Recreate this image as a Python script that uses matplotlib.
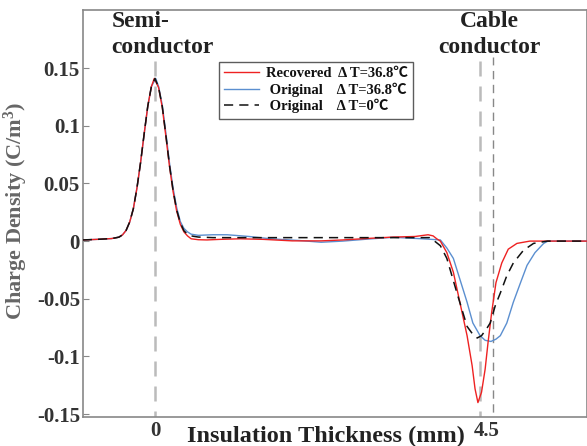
import matplotlib
matplotlib.use("Agg")
import matplotlib.pyplot as plt
import matplotlib.transforms as mtransforms

# ---- data (x in mm, y in C/m^3) ----
red_x = [-1.0, -0.8, -0.6, -0.5, -0.45, -0.4, -0.35, -0.3, -0.25, -0.2, -0.15, -0.1, -0.05, -0.01,
         0.05, 0.1, 0.15, 0.2, 0.25, 0.3, 0.35, 0.4, 0.45, 0.5, 0.6, 0.72, 0.9, 1.18, 1.5, 1.9,
         2.3, 2.6, 3.0, 3.3, 3.6, 3.78, 3.85, 3.9, 3.95, 4.04, 4.13, 4.22, 4.32, 4.39, 4.43, 4.47,
         4.52, 4.57, 4.61, 4.66, 4.72, 4.80, 4.89, 5.01, 5.19, 5.5, 6.0]
red_y = [0.001, 0.0015, 0.0022, 0.0034, 0.0054, 0.0093, 0.0166, 0.028, 0.046, 0.068, 0.093, 0.117, 0.134, 0.141,
         0.133, 0.116, 0.091, 0.065, 0.043, 0.026, 0.0146, 0.008, 0.0045, 0.002, 0.0012, 0.001, 0.0015, 0.002, 0.0015, 0.0002,
         0.0002, 0.001, 0.0025, 0.0035, 0.004, 0.0055, 0.0045, 0.002, 0.0, -0.010, -0.027, -0.053, -0.082, -0.108, -0.128, -0.140,
         -0.131, -0.111, -0.088, -0.062, -0.036, -0.019, -0.007, -0.002, 0.0, 0.0, 0.0]

blue_x = [-1.0, -0.8, -0.6, -0.5, -0.45, -0.4, -0.35, -0.3, -0.25, -0.2, -0.15, -0.1, -0.05, 0.01,
          0.05, 0.1, 0.15, 0.2, 0.25, 0.3, 0.35, 0.4, 0.45, 0.5, 0.6, 0.8, 1.0, 1.3, 1.6, 2.0,
          2.3, 2.6, 3.0, 3.3, 3.7, 3.95, 4.04, 4.13, 4.22, 4.32, 4.40, 4.50, 4.57, 4.65, 4.72, 4.78,
          4.87, 4.96, 5.06, 5.15, 5.26, 5.38, 5.44, 5.7, 6.0]
blue_y = [0.001, 0.0015, 0.0022, 0.0034, 0.0054, 0.0093, 0.0166, 0.028, 0.046, 0.068, 0.093, 0.117, 0.134, 0.141,
          0.134, 0.118, 0.094, 0.068, 0.046, 0.029, 0.017, 0.011, 0.008, 0.006, 0.005, 0.0055, 0.0055, 0.004, 0.002, 0.0005,
          -0.001, 0.0, 0.002, 0.0033, 0.002, 0.001, -0.006, -0.015, -0.033, -0.053, -0.071, -0.082, -0.086, -0.087, -0.085, -0.082,
          -0.071, -0.053, -0.036, -0.021, -0.010, -0.002, 0.0, 0.0, 0.0]

black_x = [-1.0, -0.8, -0.6, -0.5, -0.45, -0.4, -0.35, -0.3, -0.25, -0.2, -0.15, -0.1, -0.05, 0.0,
           0.05, 0.1, 0.15, 0.2, 0.25, 0.3, 0.35, 0.4, 0.45, 0.5, 0.6, 0.8, 1.5, 2.5, 3.5, 3.8,
           3.85, 3.95, 4.04, 4.18, 4.32, 4.39, 4.46, 4.52, 4.59, 4.64, 4.71, 4.78, 4.87, 4.96, 5.10,
           5.24, 5.43, 6.0]
black_y = [0.001, 0.0015, 0.0022, 0.0034, 0.0054, 0.0093, 0.0166, 0.028, 0.046, 0.068, 0.093, 0.117, 0.134, 0.141,
           0.133, 0.117, 0.092, 0.066, 0.044, 0.027, 0.016, 0.009, 0.006, 0.0045, 0.0035, 0.003, 0.003, 0.003, 0.003, 0.003,
           0.001, -0.004, -0.015, -0.045, -0.074, -0.080, -0.084, -0.082, -0.076, -0.071, -0.056, -0.045, -0.030, -0.019, -0.008,
           -0.002, 0.0, 0.0]

semi_pos = 0.0
cable_pos = [4.5, 4.68]
y_ticks = [-0.15, -0.1, -0.05, 0, 0.05, 0.1, 0.15]
y_tick_labels = ["-0.15", "-0.1", "-0.05", "0", "0.05", "0.1", "0.15"]
x_ticks = [0, 4.5]
x_tick_labels = ["0", "4.5"]
legend_labels = ['Recovered  \u0394 T=36.8\u2103',
                 ' Original    \u0394 T=36.8\u2103',
                 ' Original    \u0394 T=0\u2103']

plt.rcParams['font.family'] = ['Liberation Serif', 'Noto Sans CJK SC', 'DejaVu Sans']
plt.rcParams['font.weight'] = 'bold'
plt.rcParams['mathtext.default'] = 'regular'

fig = plt.figure(figsize=(5.87, 4.46), dpi=100)
ax = fig.add_axes([0.141, 0.065, 0.859, 0.913])

# reference dashed lines
ax.vlines(semi_pos, -0.16, 0.16, colors='#bbbbbb', linestyles=(0, (6, 4)), linewidth=1.8, zorder=1)
ax.vlines(cable_pos[0], -0.16, 0.16, colors='#bbbbbb', linestyles=(0, (6, 4)), linewidth=1.8, zorder=1)
ax.vlines(cable_pos[1], -0.16, 0.16, colors='#888888', linestyles=(0, (6, 4)), linewidth=1.0, zorder=1)

ax.plot(red_x, red_y, color='#ee2222', lw=1.0, label=legend_labels[0], zorder=4)
ax.plot(blue_x, blue_y, color='#5b8fd0', lw=1.0, label=legend_labels[1], zorder=3)
ax.plot(black_x, black_y, color='#111111', lw=1.1, ls=(0, (6, 4)), label=legend_labels[2], zorder=5)

ax.set_xlim(-1.0, 5.98)
ax.set_ylim(-0.1525, 0.2005)
ax.set_yticks(y_ticks)
ax.set_yticklabels(y_tick_labels)
ax.set_xticks(x_ticks)
ax.set_xticklabels(x_tick_labels)
ax.tick_params(axis='y', direction='in', length=4, color='#888888', pad=2, labelsize=15, labelcolor='#333333')
ax.tick_params(axis='x', length=0, pad=3, labelsize=15, labelcolor='#333333')
# the "4.5" label sits a little right of its line in the reference
lbl = ax.get_xticklabels()[1]
lbl.set_transform(lbl.get_transform() + mtransforms.ScaledTranslation(7 / 100, 0, fig.dpi_scale_trans))
for s in ax.spines.values():
    s.set_color('#888888')
    s.set_linewidth(1.2)

ax.set_xlabel('Insulation Thickness (mm)', fontsize=17.5, fontweight='bold', color='#222222')
ax.xaxis.set_label_coords(0.482, -0.022)
ax.set_ylabel('Charge Density (C/m$^3$)', fontsize=16, fontweight='bold', color='#666666')
ax.yaxis.set_label_coords(-0.105, 0.506)

ax.text(-0.6, 0.19, 'Semi-', ha='left', va='center', fontsize=17, fontweight='bold', color='#222222')
ax.text(-0.6, 0.1675, 'conductor', ha='left', va='center', fontsize=17, fontweight='bold', color='#222222')
ax.text(4.63, 0.19, 'Cable', ha='center', va='center', fontsize=17, fontweight='bold', color='#222222')
ax.text(4.63, 0.1675, 'conductor', ha='center', va='center', fontsize=17, fontweight='bold', color='#222222')

leg = ax.legend(loc='upper left', bbox_to_anchor=(0.373, 0.861), bbox_transform=fig.transFigure,
                fontsize=10.5, frameon=True, fancybox=False, handlelength=2.4, handletextpad=0.45,
                borderpad=0.35, labelspacing=0.15, borderaxespad=0)
leg.get_frame().set_edgecolor('#333333')
leg.get_frame().set_linewidth(1.0)
for t in leg.get_texts():
    t.set_fontweight('bold')
    t.set_color('#111111')

fig.savefig('out.png', dpi=100)
